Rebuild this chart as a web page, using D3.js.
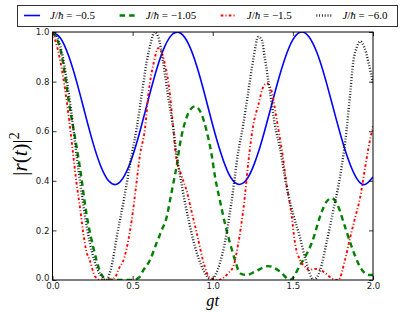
<!DOCTYPE html>
<html><head><meta charset="utf-8">
<script src="https://cdn.jsdelivr.net/npm/d3@7/dist/d3.min.js"></script>
<style>body{margin:0;background:#fff}svg{display:block}</style>
</head><body>
<svg id="c" width="415" height="312"></svg>
<script>
// ---- data ----
const xTicks = [0, 0.5, 1.0, 1.5, 2.0];
const yTicks = [0, 0.2, 0.4, 0.6, 0.8, 1.0];
const couplings = ["−0.5", "−1.05", "−1.5", "−6.0"];

const tBlue = [0,0.05,0.10,0.15,0.20,0.25,0.30,0.35,0.40,0.45,0.50,0.55,0.60,0.65,0.70,0.75,0.80,0.85,0.90,0.95,1.00,1.05,1.10,1.15,1.20,1.25,1.30,1.35,1.40,1.45,1.50,1.55,1.60,1.65,1.70,1.75,1.80,1.85,1.90,1.95,2.00];
const blue  = [1.000,0.975,0.905,0.801,0.679,0.559,0.461,0.400,0.386,0.422,0.500,0.610,0.733,0.850,0.941,0.992,0.995,0.950,0.863,0.748,0.624,0.513,0.428,0.388,0.396,0.453,0.547,0.664,0.785,0.892,0.969,1.000,0.981,0.917,0.817,0.698,0.580,0.479,0.408,0.385,0.415];

const tGreen = [0,0.047,0.109,0.172,0.213,0.255,0.296,0.33,0.40,0.50,0.54,0.567,0.608,0.65,0.681,0.713,0.733,0.754,0.775,0.796,0.816,0.858,0.889,0.931,0.962,0.993,1.014,1.045,1.076,1.108,1.139,1.17,1.212,1.264,1.347,1.42,1.482,1.545,1.617,1.68,1.71,1.742,1.773,1.825,1.867,1.908,1.95,1.98,2.0];
const green  = [1,0.935,0.69,0.45,0.263,0.13,0.036,0.005,0,0,0.01,0.04,0.08,0.15,0.20,0.255,0.32,0.39,0.46,0.55,0.61,0.685,0.70,0.667,0.60,0.505,0.417,0.32,0.228,0.148,0.08,0.027,0.02,0.034,0.056,0.034,0.0,0.06,0.148,0.275,0.316,0.33,0.31,0.215,0.134,0.067,0.027,0.02,0.02];

const tRed = [0,0.04,0.078,0.105,0.13,0.15,0.172,0.192,0.21,0.234,0.265,0.30,0.35,0.39,0.41,0.45,0.473,0.494,0.52,0.546,0.577,0.598,0.633,0.66,0.698,0.733,0.754,0.769,0.80,0.837,0.87,0.90,0.95,0.98,1.03,1.07,1.10,1.128,1.16,1.19,1.232,1.253,1.284,1.316,1.337,1.368,1.388,1.409,1.43,1.46,1.493,1.513,1.545,1.576,1.60,1.638,1.69,1.742,1.784,1.825,1.857,1.888,1.919,1.95,1.971,2.0];
const red  = [1,0.91,0.77,0.64,0.50,0.39,0.29,0.19,0.12,0.077,0.015,0,0,0.01,0.04,0.094,0.16,0.24,0.37,0.505,0.61,0.747,0.88,0.935,0.88,0.747,0.61,0.505,0.43,0.36,0.27,0.19,0.054,0.01,0,0.01,0.03,0.054,0.15,0.28,0.53,0.625,0.705,0.78,0.793,0.76,0.69,0.61,0.53,0.39,0.255,0.15,0.08,0.054,0.04,0.045,0.034,0.007,0,0.08,0.17,0.25,0.33,0.45,0.53,0.62];

const tBlack = [0,0.05,0.10,0.155,0.20,0.23,0.26,0.30,0.335,0.37,0.40,0.45,0.494,0.525,0.557,0.588,0.615,0.637,0.66,0.69,0.72,0.754,0.775,0.81,0.85,0.90,0.95,0.99,1.03,1.087,1.12,1.16,1.19,1.222,1.253,1.284,1.305,1.326,1.357,1.388,1.42,1.46,1.50,1.545,1.58,1.63,1.67,1.71,1.752,1.784,1.805,1.836,1.857,1.877,1.90,1.919,1.945,1.971,2.0];
const black  = [1,0.94,0.76,0.48,0.27,0.16,0.08,0.02,0,0.06,0.17,0.34,0.505,0.61,0.747,0.88,0.96,1.0,0.98,0.88,0.747,0.61,0.505,0.37,0.24,0.11,0.03,0,0.04,0.19,0.33,0.52,0.625,0.76,0.89,0.98,0.97,0.89,0.76,0.625,0.53,0.38,0.27,0.17,0.08,0,0.04,0.15,0.28,0.38,0.46,0.61,0.747,0.88,0.94,0.962,0.94,0.88,0.79];

// ---- layout ----
const svg = d3.select("#c");
const L = 52.5, R = 373, T = 32, B = 280;
const x = d3.scaleLinear().domain([0, 2]).range([L, R]);
const y = d3.scaleLinear().domain([0, 1]).range([B, T]);

svg.append("defs").append("clipPath").attr("id","clip")
  .append("rect").attr("x",L).attr("y",T).attr("width",R-L).attr("height",B-T);

const styles = [
  {data:[tBlue,blue],  color:"#0000ff", w:1.6, dash:null, curve:d3.curveNatural},
  {data:[tGreen,green],color:"#008000", w:2.4, dash:"5.5,4", curve:d3.curveMonotoneX},
  {data:[tRed,red],    color:"#ff0000", w:1.9, dash:"2.6,2.2,1,2.2", curve:d3.curveMonotoneX},
  {data:[tBlack,black],color:"#1a1a1a", w:2.4, dash:"0.9,1.9", curve:d3.curveMonotoneX}
];

const g = svg.append("g").attr("clip-path","url(#clip)");
styles.forEach(s => {
  const pts = s.data[0].map((t,i)=>[t, s.data[1][i]]);
  const line = d3.line().x(d=>x(d[0])).y(d=>y(d[1])).curve(s.curve);
  g.append("path").attr("d", line(pts)).attr("fill","none")
    .attr("stroke", s.color).attr("stroke-width", s.w)
    .attr("stroke-dasharray", s.dash).attr("stroke-linejoin","round");
});

// frame
svg.append("rect").attr("x",L).attr("y",T).attr("width",R-L).attr("height",B-T)
  .attr("fill","none").attr("stroke","#000").attr("stroke-width",1);

const fmt = d3.format(".1f");
function styleAxis(sel){
  sel.select(".domain").remove();
  sel.selectAll("line").attr("stroke","#000").attr("stroke-width",0.8);
  sel.selectAll("text").attr("font-family","DejaVu Sans").attr("font-size","8.6px").attr("fill","#222");
}
svg.append("g").attr("transform",`translate(0,${B})`)
  .call(d3.axisBottom(x).tickValues(xTicks).tickFormat(fmt).tickSizeInner(-4).tickSizeOuter(0).tickPadding(2.5))
  .call(styleAxis);
svg.append("g").attr("transform",`translate(0,${T})`)
  .call(d3.axisTop(x).tickValues(xTicks).tickFormat("").tickSizeInner(-4).tickSizeOuter(0))
  .call(styleAxis);
const yAx = svg.append("g").attr("transform",`translate(${L},0)`)
  .call(d3.axisLeft(y).tickValues(yTicks).tickFormat(fmt).tickSizeInner(-4).tickSizeOuter(0).tickPadding(3))
  .call(styleAxis);
// lift the "0.0" y label a little so it does not sit on the x "0.0"
yAx.selectAll(".tick").filter(d => d === 0).select("text").attr("dy","0.05em");
svg.append("g").attr("transform",`translate(${R},0)`)
  .call(d3.axisRight(y).tickValues(yTicks).tickFormat("").tickSizeInner(-4).tickSizeOuter(0))
  .call(styleAxis);

// axis labels
svg.append("text").attr("x", x(1)).attr("y", 305.5).attr("text-anchor","middle")
  .attr("font-family","Liberation Serif").attr("font-size","16.5px").attr("font-style","italic").text("gt");

const yl = svg.append("text").attr("transform","translate(27,154) rotate(-90)")
  .attr("text-anchor","middle").attr("font-family","Liberation Serif").attr("font-size","21px").attr("fill","#000");
yl.append("tspan").text("|");
yl.append("tspan").attr("font-style","italic").text("r");
yl.append("tspan").text("(");
yl.append("tspan").attr("font-style","italic").text("t");
yl.append("tspan").text(")|");
yl.append("tspan").attr("font-size","14px").attr("dy","-8").text("2");

// legend
const lg = svg.append("g");
lg.append("rect").attr("x",17.5).attr("y",5.5).attr("width",380).attr("height",21)
  .attr("fill","#fff").attr("stroke","#333").attr("stroke-width",1);
let cx = 24;
styles.forEach((s,i) => {
  lg.append("line").attr("x1",cx).attr("x2",cx+16).attr("y1",15.5).attr("y2",15.5)
    .attr("stroke",s.color).attr("stroke-width",s.w).attr("stroke-dasharray",s.dash);
  const t = lg.append("text").attr("x",cx+26).attr("y",19)
    .attr("font-family","Liberation Serif").attr("font-size","11px").attr("fill","#000");
  t.append("tspan").attr("font-style","italic").text("J");
  t.append("tspan").text("/");
  t.append("tspan").attr("font-style","italic").text("ħ");
  t.append("tspan").text(" = " + couplings[i]);
  cx = cx + 26 + t.node().getComputedTextLength() + 24.5;
});
</script>
</body></html>
